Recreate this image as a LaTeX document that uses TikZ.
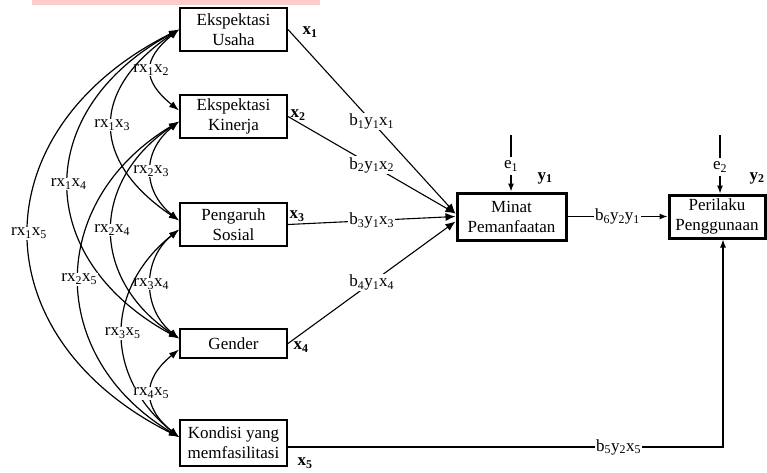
\documentclass[tikz,border=0pt]{standalone}
\usepackage{fontspec}
\setmainfont{Liberation Serif}
\usepackage{xcolor}
\definecolor{pinkbar}{RGB}{255,204,204}
\usepackage{tikz}
\usetikzlibrary{arrows.meta}
\newcommand{\rxx}[2]{rx\textsubscript{#1}x\textsubscript{#2}}
\newcommand{\byx}[4]{b\textsubscript{#1}y\textsubscript{#2}#3\textsubscript{#4}}
\tikzset{
    font={\fontsize{17pt}{20pt}\selectfont},
    xbox/.style={draw, line width=2pt, minimum width=107pt, align=center, inner sep=0pt},
    ybox/.style={draw, line width=3pt, align=center, inner sep=0pt},
    corr/.style={line width=1.2pt, {Latex[length=10pt,width=7pt]}-{Latex[length=10pt,width=7pt]}},
    barrow/.style={line width=1.1pt, -{Latex[length=10pt,width=8pt]}},
    sarrow/.style={line width=1.1pt, -{Latex[length=8pt,width=6pt]}},
    rlab/.style={fill=white, inner sep=1pt},
    blab/.style={fill=white, inner sep=1pt},
    }

\begin{document}
\begin{tikzpicture}
    [x=1pt, y=-1pt]
    \useasboundingbox (0,0) rectangle (767,472);
    \fill[pinkbar] (32,0) rectangle (320,5);
    % variabel x
    \node[xbox, minimum height=43pt] (u) at (233.5,29.5) {Ekspektasi\\Usaha};
    \node[xbox, minimum height=43pt] (k) at (233.5,116.5) {Ekspektasi\\Kinerja};
    \node[xbox, minimum height=43pt] (p) at (233.5,224.5) {Pengaruh\\Sosial};
    \node[xbox, minimum height=29pt] (g) at (233.5,343.5) {Gender};
    \node[xbox, minimum height=46pt] (f) at (233.5,443) {Kondisi yang\\memfasilitasi};
    % variabel y
    \node[ybox, minimum width=109pt, minimum height=47pt] (m) at (511.5,216.5) {Minat\\Pemanfaatan};
    \node[ybox, minimum width=96pt, minimum height=43pt] (pl) at (717,216.5) {Perilaku\\Penggunaan};
    % text
    \node (lx1) at (310,32) {\textbf{x\textsubscript{1}}};
    \node (lx2) at (298,115) {\textbf{x\textsubscript{2}}};
    \node (lx3) at (297,216) {\textbf{x\textsubscript{3}}};
    \node (lx4) at (301,347) {\textbf{x\textsubscript{4}}};
    \node (lx5) at (305,463) {\textbf{x\textsubscript{5}}};
    \node (ly1) at (545,178) {\textbf{y\textsubscript{1}}};
    \node (ly2) at (757,178) {\textbf{y\textsubscript{2}}};
    % korelasi
    \draw[corr] (u.west) .. controls +(-37,30) and +(-37,-30) .. ([yshift=6pt]k.west)
        node[rlab,pos=.5] {\rxx12};
    \draw[corr] (u.west) .. controls +(-89,60) and +(-89,-60) .. ([yshift=4pt]p.west)
        node[rlab,pos=.5] {\rxx13};
    \draw[corr] (u.west) .. controls +(-147,80) and +(-147,-80) .. ([yshift=5pt]g.west)
        node[rlab,pos=.5] {\rxx14};
    \draw[corr] (u.west) .. controls +(-200,100) and +(-200,-100) .. ([yshift=6pt]f.west)
        node[rlab,pos=.5] {\rxx15};
    \draw[corr] ([yshift=-5pt]k.west) .. controls +(-37,30) and +(-37,-30) .. ([yshift=4pt]p.west)
        node[rlab,pos=.5] {\rxx23};
    \draw[corr] ([yshift=-5pt]k.west) .. controls +(-89,60) and +(-89,-60) .. ([yshift=5pt]g.west)
        node[rlab,pos=.5] {\rxx24};
    \draw[corr] ([yshift=-5pt]k.west) .. controls +(-133,80) and +(-133,-80) .. ([yshift=6pt]f.west)
        node[rlab,pos=.5] {\rxx25};
    \draw[corr] ([yshift=-5pt]p.west) .. controls +(-37,30) and +(-37,-30) .. ([yshift=5pt]g.west)
        node[rlab,pos=.5] {\rxx34};
    \draw[corr] ([yshift=-5pt]p.west) .. controls +(-75,60) and +(-75,-60) .. ([yshift=6pt]f.west)
        node[rlab,pos=.5] {\rxx35};
    \draw[corr] ([yshift=-6pt]g.west) .. controls +(-37,30) and +(-37,-30) .. ([yshift=6pt]f.west)
        node[rlab,pos=.5] {\rxx45};
    % pengaruh
    \draw[barrow] (u.east) -- node[blab] {\byx11x1} ([yshift=3pt]m.west);
    \draw[barrow] (k.east) -- node[blab] {\byx21x2} ([yshift=3pt]m.west);
    \draw[barrow] (p.east) -- node[blab] {\byx31x3} ([yshift=0pt]m.west);
    \draw[barrow] (g.east) -- node[blab] {\byx41x4} ([yshift=-5pt]m.west);
    \draw[sarrow] (m.east) -- node[blab] {\byx62y1} (pl.west);
    \draw[sarrow] ([yshift=-4pt]f.east) -| node[blab,pos=.38] {\byx52x5} ([xshift=6pt]pl.south);
    % error
    \node (e1) at (511,166) {e\textsubscript{1}};
    \coordinate (e1t) at (511,135);
    \draw[line width=1.1pt] (e1t) -- (e1);
    \draw[sarrow] (e1) -- (e1 |- m.north);
    \node (e2) at (720,167) {e\textsubscript{2}};
    \coordinate (e2t) at (720,135);
    \draw[line width=1.1pt] (e2t) -- (e2);
    \draw[sarrow] (e2) -- (e2 |- pl.north);
\end{tikzpicture}
\end{document}
